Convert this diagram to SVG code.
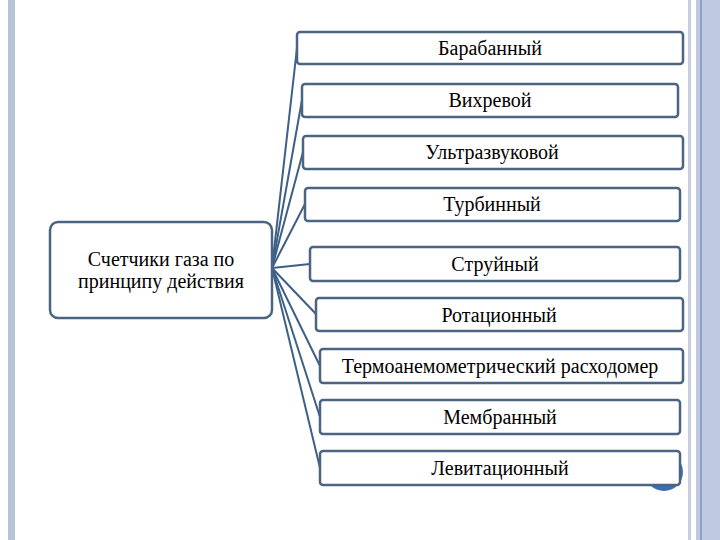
<svg xmlns="http://www.w3.org/2000/svg" width="720" height="540" viewBox="0 0 720 540">
<style>
.b{fill:#fff;stroke:#4a6482;stroke-width:2.5}
.t{font-family:"Liberation Serif",serif;font-size:20px;fill:#000;text-anchor:middle}
.c line{stroke:#3e5f86;stroke-width:2}
</style>
<rect width="720" height="540" fill="#fff"/>
<rect x="8" y="0" width="7" height="540" fill="#b9c4d9"/>
<rect x="688" y="0" width="3" height="540" fill="#c8d0e0"/>
<rect x="696" y="0" width="24" height="540" fill="#bfcae0"/>
<rect x="700" y="0" width="2" height="540" fill="#8ea2c8"/>
<circle cx="664" cy="472" r="19" fill="#3b6fb3"/>
<g class="c">
<line x1="272" y1="268" x2="297" y2="48"/>
<line x1="272" y1="268" x2="302" y2="100"/>
<line x1="272" y1="268" x2="303" y2="152"/>
<line x1="272" y1="268" x2="305" y2="204"/>
<line x1="272" y1="268" x2="310" y2="264"/>
<line x1="272" y1="268" x2="316" y2="314"/>
<line x1="272" y1="268" x2="320" y2="366"/>
<line x1="272" y1="268" x2="320" y2="417"/>
<line x1="272" y1="268" x2="320" y2="468"/>
</g>
<g id="root"><rect class="b" x="50" y="222" width="222" height="96" rx="8"/><text class="t" x="161" y="266">Счетчики газа по</text><text class="t" x="161" y="288">принципу действия</text></g>
<g id="n1"><rect class="b" x="297" y="32" width="386" height="32" rx="3"/><text class="t" x="490" y="55">Барабанный</text></g>
<g id="n2"><rect class="b" x="302" y="84" width="376" height="33" rx="3"/><text class="t" x="490" y="107">Вихревой</text></g>
<g id="n3"><rect class="b" x="303" y="136" width="380" height="33" rx="3"/><text class="t" x="492" y="159">Ультразвуковой</text></g>
<g id="n4"><rect class="b" x="305" y="188" width="375" height="33" rx="3"/><text class="t" x="492" y="211">Турбинный</text></g>
<g id="n5"><rect class="b" x="310" y="247" width="370" height="34" rx="3"/><text class="t" x="495" y="271">Струйный</text></g>
<g id="n6"><rect class="b" x="316" y="298" width="367" height="33" rx="3"/><text class="t" x="499" y="322">Ротационный</text></g>
<g id="n7"><rect class="b" x="320" y="349" width="363" height="34" rx="3"/><text class="t" x="500" y="373">Термоанемометрический расходомер</text></g>
<g id="n8"><rect class="b" x="320" y="400" width="360" height="34" rx="3"/><text class="t" x="500" y="424">Мембранный</text></g>
<g id="n9"><rect class="b" x="320" y="451" width="360" height="34" rx="3"/><text class="t" x="500" y="475">Левитационный</text></g>
</svg>
